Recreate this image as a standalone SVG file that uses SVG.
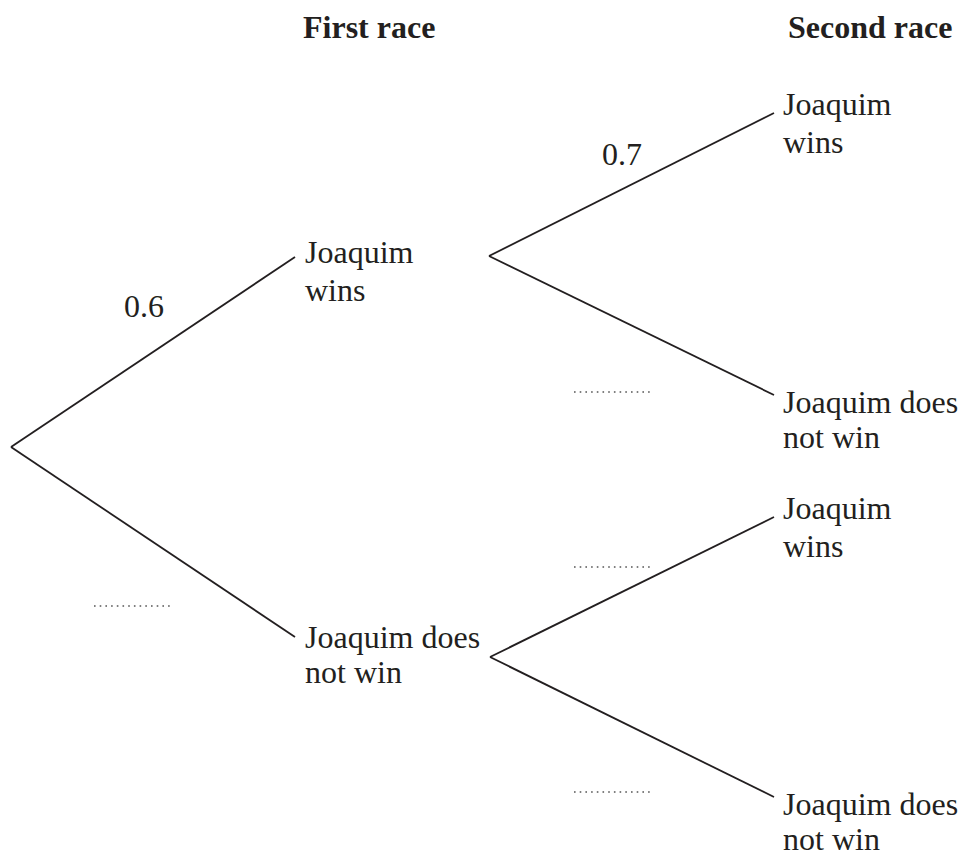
<svg xmlns="http://www.w3.org/2000/svg" width="968" height="865" viewBox="0 0 968 865" font-family="Liberation Serif, DejaVu Serif, serif">
<style>
text{font-size:32px;fill:#231f20}
.h{font-weight:bold}
.br{stroke:#231f20;stroke-width:1.8;fill:none}
.dot{stroke:#555;stroke-width:1.3;stroke-dasharray:1.6 4.1;fill:none}
</style>
<rect width="968" height="865" fill="#fff"/>
<g id="headings">
<text class="h" x="303" y="38">First race</text>
<text class="h" x="788" y="38">Second race</text>
</g>
<g id="connectors">
<line class="br" x1="11" y1="447" x2="295" y2="257"/>
<line class="br" x1="11" y1="447" x2="295" y2="637"/>
<line class="br" x1="489" y1="256" x2="774" y2="113"/>
<line class="br" x1="489" y1="256" x2="774" y2="395"/>
<line class="br" x1="490" y1="657" x2="774" y2="517"/>
<line class="br" x1="490" y1="657" x2="774" y2="797"/>
</g>
<g id="labels">
<text x="124" y="317">0.6</text>
<text x="602" y="165">0.7</text>
<line class="dot" x1="94" y1="606" x2="170" y2="606"/>
<line class="dot" x1="574" y1="392" x2="650" y2="392"/>
<line class="dot" x1="574" y1="567" x2="650" y2="567"/>
<line class="dot" x1="574" y1="792" x2="650" y2="792"/>
</g>
<g id="n1"><text x="305" y="263">Joaquim</text><text x="305" y="301">wins</text></g>
<g id="n2"><text x="305" y="648">Joaquim does</text><text x="305" y="683">not win</text></g>
<g id="n3"><text x="783" y="115">Joaquim</text><text x="783" y="153">wins</text></g>
<g id="n4"><text x="783" y="413">Joaquim does</text><text x="783" y="448">not win</text></g>
<g id="n5"><text x="783" y="519">Joaquim</text><text x="783" y="557">wins</text></g>
<g id="n6"><text x="783" y="815">Joaquim does</text><text x="783" y="850">not win</text></g>
</svg>
